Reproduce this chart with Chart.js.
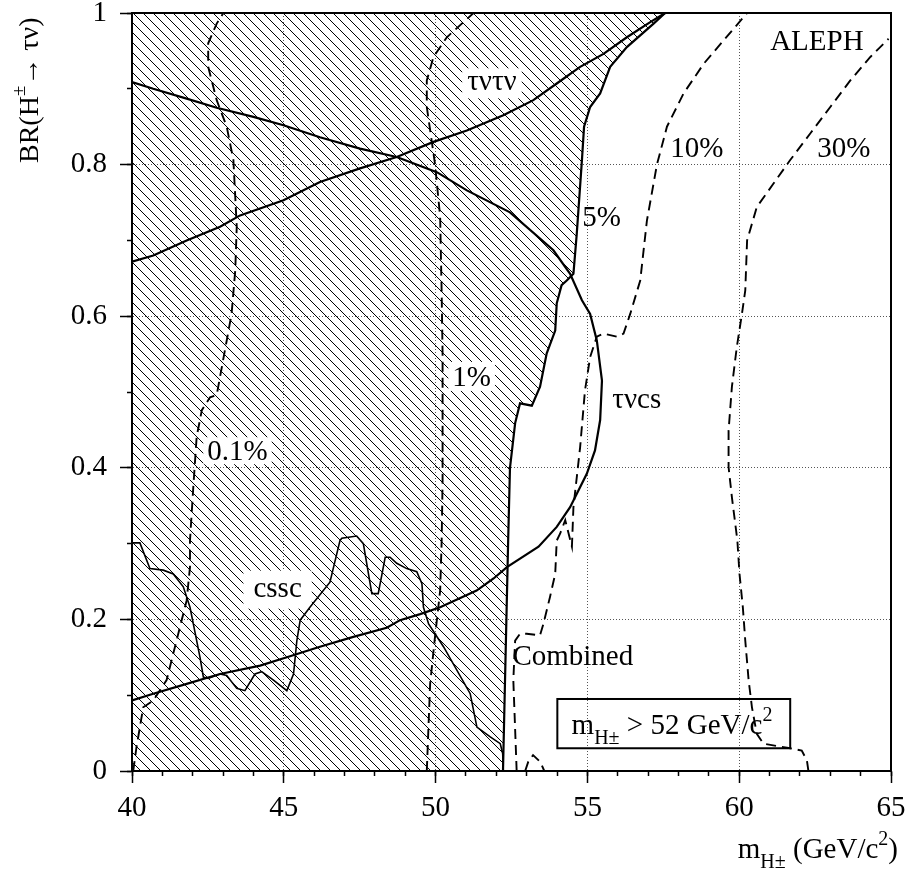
<!DOCTYPE html>
<html lang="en">
<head>
<meta charset="UTF-8">
<title>ALEPH H+ -> tau nu limits</title>
<script src="https://cdn.jsdelivr.net/npm/chart.js"></script>
<style>
  html, body { margin: 0; padding: 0; background: #fff; }
</style>
</head>
<body>
<canvas id="chart" width="910" height="880"></canvas>
<script>
// axis ranges / tick steps
const massRange = [40, 65];
const brRange = [0, 1];

// combined excluded region boundary (hatched on the left side)
const combinedM  = [52.22, 52.39, 52.45, 52.62, 52.78, 53.17, 53.44, 53.66, 53.94, 53.99, 54.15, 54.32, 54.54, 54.65, 54.82, 54.89, 55.09, 55.42, 55.75, 56.30, 57.18, 57.56];
const combinedBR = [0, 0.304, 0.400, 0.459, 0.485, 0.482, 0.507, 0.551, 0.581, 0.617, 0.641, 0.647, 0.656, 0.709, 0.806, 0.850, 0.876, 0.894, 0.929, 0.955, 0.986, 1.0];

// tau nu tau nu channel
const tntnM  = [40, 40.70, 41.80, 42.90, 43.56, 44.99, 46.19, 47.51, 48.72, 49.93, 51.03, 52.23, 53.22, 53.99, 54.76, 55.53, 56.30, 57.07, 57.56];
const tntnBR = [0.672, 0.680, 0.700, 0.718, 0.733, 0.753, 0.777, 0.795, 0.810, 0.830, 0.845, 0.865, 0.885, 0.907, 0.929, 0.946, 0.968, 0.988, 1.0];

// tau nu c s channel (closed contour)
const tncsM  = [40, 40.70, 41.80, 42.79, 44.00, 44.99, 46.19, 47.51, 48.72, 50.04, 51.03, 52.45, 53.88, 54.43, 54.82, 55.09, 55.31, 55.48, 55.42, 55.25, 54.98, 54.43, 53.99, 53.39, 52.35, 51.91, 51.35, 50.15, 49.49, 48.83, 48.39, 47.29, 46.19, 45.10, 44.22, 42.90, 41.80, 40.70, 40];
const tncsBR = [0.909, 0.900, 0.887, 0.875, 0.863, 0.852, 0.836, 0.821, 0.810, 0.790, 0.766, 0.737, 0.687, 0.656, 0.621, 0.603, 0.568, 0.515, 0.463, 0.423, 0.392, 0.348, 0.322, 0.296, 0.269, 0.254, 0.238, 0.216, 0.207, 0.199, 0.189, 0.177, 0.164, 0.150, 0.139, 0.128, 0.115, 0.102, 0.093];

// c s s c channel
const csscM  = [40, 40.26, 40.59, 41.03, 41.36, 41.69, 41.91, 42.02, 42.24, 42.35, 42.51, 42.90, 43.12, 43.45, 43.72, 44.05, 44.27, 44.66, 45.10, 45.32, 45.43, 45.54, 45.86, 46.52, 46.85, 46.91, 47.40, 47.62, 47.90, 48.11, 48.34, 48.50, 48.72, 49.05, 49.38, 49.55, 49.60, 49.77, 50.26, 51.14, 51.36, 51.80, 52.13, 52.21, 52.23];
const csscBR = [0.301, 0.301, 0.267, 0.265, 0.260, 0.243, 0.216, 0.194, 0.150, 0.124, 0.122, 0.128, 0.126, 0.109, 0.106, 0.128, 0.131, 0.120, 0.106, 0.128, 0.172, 0.199, 0.216, 0.249, 0.304, 0.307, 0.310, 0.300, 0.234, 0.234, 0.282, 0.282, 0.274, 0.267, 0.263, 0.247, 0.216, 0.194, 0.164, 0.102, 0.058, 0.045, 0.036, 0.023, 0];

// probability contours (dashed)
const p01M  = [40.04, 40.15, 40.37, 40.70, 41.14, 41.58, 41.80, 41.91, 41.91, 42.02, 42.13, 42.30, 42.57, 42.79, 42.90, 43.12, 43.28, 43.40, 43.45, 43.34, 43.12, 42.79, 42.51, 42.51, 42.79, 43.01];
const p01BR = [0, 0.032, 0.084, 0.093, 0.120, 0.190, 0.225, 0.269, 0.304, 0.375, 0.441, 0.476, 0.493, 0.496, 0.520, 0.568, 0.603, 0.660, 0.718, 0.806, 0.850, 0.885, 0.929, 0.960, 0.986, 1.0];

const p1M  = [49.71, 49.82, 49.98, 50.15, 50.20, 50.23, 50.23, 50.20, 50.15, 49.98, 49.71, 49.71, 49.93, 50.37, 51.25];
const p1BR = [0, 0.115, 0.177, 0.238, 0.304, 0.383, 0.550, 0.630, 0.731, 0.801, 0.876, 0.911, 0.942, 0.968, 1.0];

const p10M  = [52.67, 52.56, 52.62, 52.78, 53.00, 53.44, 53.55, 53.77, 53.94, 53.99, 54.10, 54.27, 54.49, 54.54, 54.76, 54.92, 55.09, 55.31, 55.53, 55.97, 56.19, 56.41, 56.74, 56.96, 57.29, 57.62, 58.17, 58.83, 59.49, 60.26];
const p10BR = [0, 0.120, 0.172, 0.181, 0.181, 0.179, 0.194, 0.230, 0.260, 0.304, 0.313, 0.331, 0.296, 0.348, 0.427, 0.502, 0.546, 0.573, 0.577, 0.573, 0.577, 0.603, 0.647, 0.726, 0.800, 0.850, 0.894, 0.933, 0.964, 1.0];

const arcM  = [52.95, 53.05, 53.21, 53.45, 53.58];
const arcBR = [0, 0.012, 0.021, 0.012, 0];

const p30M  = [62.28, 62.23, 62.06, 61.68, 60.80, 60.58, 60.42, 60.31, 60.20, 60.12, 60.01, 59.94, 59.76, 59.65, 59.65, 59.76, 59.92, 60.09, 60.20, 60.26, 60.58, 61.13, 61.68, 62.34, 63.00, 63.66, 64.32, 64.92];
const p30BR = [0, 0.014, 0.027, 0.030, 0.036, 0.049, 0.084, 0.120, 0.172, 0.216, 0.260, 0.304, 0.361, 0.401, 0.449, 0.507, 0.559, 0.603, 0.634, 0.700, 0.744, 0.775, 0.806, 0.841, 0.876, 0.911, 0.942, 0.966];

const FONT = '"Liberation Serif", "Times New Roman", serif';

// text labels in data coordinates (left x, baseline y); pad => white knock-out box
const notes = [
    { text: 'ALEPH', m: 61.02, br: 0.951 },
    { text: 'τντν', m: 51.04, br: 0.898, pad: [5, 8] },
    { text: '10%', m: 57.73, br: 0.810 },
    { text: '30%', m: 62.57, br: 0.810 },
    { text: '5%', m: 54.83, br: 0.719 },
    { text: '1%', m: 50.55, br: 0.508, pad: [4, 5] },
    { text: 'τνcs', m: 55.82, br: 0.479 },
    { text: '0.1%', m: 42.48, br: 0.410, pad: [4, 4] },
    { text: 'cssc', m: 44.00, br: 0.230, pad: [10, 12] },
    { text: 'Combined', m: 52.53, br: 0.140 }
];

function pts(xs, ys) {
    return xs.map((x, i) => ({ x: x, y: ys[i] }));
}

// diagonal hatch "\\\" for excluded area
function hatchPattern() {
    const c = document.createElement('canvas');
    c.width = 10; c.height = 10;
    const g = c.getContext('2d');
    g.strokeStyle = '#000';
    g.lineWidth = 1;
    g.beginPath();
    g.moveTo(-2, -2); g.lineTo(12, 12);
    g.moveTo(-2, 8); g.lineTo(2, 12);
    g.moveTo(8, -2); g.lineTo(12, 2);
    g.stroke();
    return g.createPattern(c, 'repeat');
}

// draws text pieces with sub/superscripts, returns end x
function rich(ctx, parts, x, y, size, measureOnly) {
    for (const p of parts) {
        const small = p.sub || p.sup;
        ctx.font = (small ? Math.round(size * 0.68) : size) + 'px ' + FONT;
        const dy = p.sub ? size * 0.36 : (p.sup ? -size * 0.45 : 0);
        if (!measureOnly) ctx.fillText(p.t, x, y + dy);
        x += ctx.measureText(p.t).width;
    }
    return x;
}

// keep the plot frame where it is, whatever the tick label overflow
function noPad(s) {
    s.paddingTop = 0; s.paddingBottom = 0; s.paddingLeft = 0; s.paddingRight = 0;
}

const decorations = {
    id: 'decorations',
    afterDatasetDraw(chart, args) {
        // white boxes behind some labels, just above the hatching
        if (args.index !== 0) return;
        const ctx = chart.ctx, xs = chart.scales.x, ys = chart.scales.y;
        ctx.save();
        ctx.font = '29px ' + FONT;
        ctx.fillStyle = '#fff';
        notes.forEach(n => {
            if (!n.pad) return;
            const mt = ctx.measureText(n.text);
            const px = xs.getPixelForValue(n.m), py = ys.getPixelForValue(n.br);
            ctx.fillRect(px - n.pad[0], py - mt.actualBoundingBoxAscent - n.pad[1],
                mt.width + 2 * n.pad[0], mt.actualBoundingBoxAscent + mt.actualBoundingBoxDescent + 2 * n.pad[1]);
        });
        ctx.restore();
    },
    afterDatasetsDraw(chart) {
        const ctx = chart.ctx, xs = chart.scales.x, ys = chart.scales.y;
        const a = chart.chartArea;
        ctx.save();
        ctx.fillStyle = '#000';
        ctx.textBaseline = 'alphabetic';
        ctx.textAlign = 'left';
        ctx.font = '29px ' + FONT;
        notes.forEach(n => {
            ctx.fillText(n.text, xs.getPixelForValue(n.m), ys.getPixelForValue(n.br));
        });

        // mass limit box
        const bx1 = xs.getPixelForValue(54.01), bx2 = xs.getPixelForValue(61.68);
        const by1 = ys.getPixelForValue(0.095), by2 = ys.getPixelForValue(0.030);
        ctx.lineWidth = 2;
        ctx.strokeStyle = '#000';
        ctx.strokeRect(bx1, by1, bx2 - bx1, by2 - by1);
        rich(ctx, [{ t: 'm' }, { t: 'H±', sub: true }, { t: ' > 52 GeV/c' }, { t: '2', sup: true }],
            xs.getPixelForValue(54.48), ys.getPixelForValue(0.0488), 29);

        // frame
        ctx.lineWidth = 2;
        ctx.strokeRect(a.left, a.top, a.right - a.left, a.bottom - a.top);

        // x title, right aligned
        const xParts = [{ t: 'm' }, { t: 'H±', sub: true }, { t: ' (GeV/c' }, { t: '2', sup: true }, { t: ')' }];
        const w = rich(ctx, xParts, 0, 0, 29, true);
        rich(ctx, xParts, a.right + 7 - w, a.bottom + 87, 29);

        // y title, rotated
        ctx.translate(38, a.top + 150);
        ctx.rotate(-Math.PI / 2);
        rich(ctx, [{ t: 'BR(H' }, { t: '±', sup: true }, { t: '→ τν)' }], 0, 0, 28);
        ctx.restore();
    }
};

const tickFont = { family: FONT, size: 29 };
const plainNumber = v => String(Number(v.toFixed(2)));
const dashed = { showLine: true, borderColor: '#000', borderWidth: 1.9, borderDash: [10, 6], pointRadius: 0 };
const solid = { showLine: true, borderColor: '#000', borderWidth: 2.2, pointRadius: 0 };

new Chart(document.getElementById('chart'), {
    type: 'scatter',
    data: {
        datasets: [
            {
                label: 'excluded',
                data: pts(combinedM.concat([40, 40]), combinedBR.concat([1, 0])),
                showLine: true, fill: 'shape', backgroundColor: hatchPattern(),
                borderColor: 'rgba(0,0,0,0)', borderWidth: 1, pointRadius: 0, order: 10
            },
            Object.assign({ label: 'combined', data: pts(combinedM, combinedBR) }, solid),
            Object.assign({ label: 'tntn', data: pts(tntnM, tntnBR) }, solid),
            Object.assign({ label: 'tncs', data: pts(tncsM, tncsBR) }, solid),
            Object.assign({ label: 'cssc', data: pts(csscM, csscBR) }, solid, { borderWidth: 1.6 }),
            Object.assign({ label: '0.1%', data: pts(p01M, p01BR) }, dashed),
            Object.assign({ label: '1%', data: pts(p1M, p1BR) }, dashed),
            Object.assign({ label: '10%', data: pts(p10M, p10BR) }, dashed),
            Object.assign({ label: 'arc', data: pts(arcM, arcBR) }, dashed),
            Object.assign({ label: '30%', data: pts(p30M, p30BR) }, dashed)
        ]
    },
    options: {
        responsive: false,
        animation: false,
        layout: { padding: { top: 13, right: 19, left: 0, bottom: 0 } },
        plugins: { legend: { display: false }, tooltip: { enabled: false } },
        scales: {
            x: {
                type: 'linear', position: 'bottom', min: massRange[0], max: massRange[1],
                ticks: { stepSize: 5, font: tickFont, color: '#000', padding: 8, maxRotation: 0, callback: plainNumber },
                grid: { color: '#555', lineWidth: 1, tickLength: 12, tickColor: '#000', tickWidth: 1.5 },
                border: { display: true, color: '#000', width: 2, dash: [1, 2] },
                afterFit: s => { s.height = 109; noPad(s); }
            },
            xm: {
                type: 'linear', position: 'bottom', weight: -1, min: massRange[0], max: massRange[1],
                ticks: { display: false, stepSize: 1 },
                grid: { drawOnChartArea: false, tickLength: 5, tickColor: '#000', tickWidth: 1.5 },
                border: { display: false },
                afterFit: s => { s.height = 0; noPad(s); }
            },
            y: {
                type: 'linear', position: 'left', min: brRange[0], max: brRange[1],
                ticks: { stepSize: 0.2, font: tickFont, color: '#000', padding: 13, callback: plainNumber },
                grid: { color: '#555', lineWidth: 1, tickLength: 12, tickColor: '#000', tickWidth: 1.5 },
                border: { display: true, color: '#000', width: 2, dash: [1, 2] },
                afterFit: s => { s.width = 132; noPad(s); }
            },
            ym: {
                type: 'linear', position: 'left', weight: -1, min: brRange[0], max: brRange[1],
                ticks: { display: false, stepSize: 0.1 },
                grid: { drawOnChartArea: false, tickLength: 5, tickColor: '#000', tickWidth: 1.5 },
                border: { display: false },
                afterFit: s => { s.width = 0; noPad(s); }
            }
        }
    },
    plugins: [decorations]
});
</script>
</body>
</html>
